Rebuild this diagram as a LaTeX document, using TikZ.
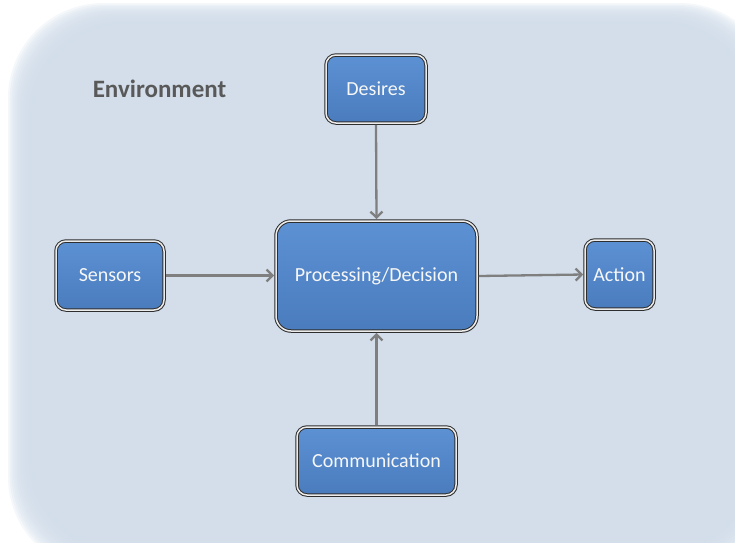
\documentclass[tikz,border=0pt]{standalone}
\usepackage{fontspec}
\setmainfont{Carlito}
\usetikzlibrary{arrows.meta,shadows}
\definecolor{bgc}{HTML}{D2DDEA}
\definecolor{boxtop}{HTML}{5C91D4}
\definecolor{boxbot}{HTML}{4A7CBD}
\definecolor{boxline}{HTML}{2E2E2E}
\definecolor{arrowc}{HTML}{7F7F7F}
\definecolor{envc}{HTML}{595959}
\tikzset{
  blockbox/.style={draw=boxline, line width=1pt, double=white!85!gray, double distance=1.5pt,
    top color=boxtop, bottom color=boxbot, rounded corners=10pt,
    text=white!94!gray, font=\fontsize{20}{24}\selectfont, inner sep=0pt, outer sep=1.8pt,
    drop shadow={opacity=0.3, shadow xshift=1pt, shadow yshift=-1.8pt}},
  flowarrow/.style={draw=arrowc, line width=2.3pt, -{Straight Barb[length=6pt,width=12pt,line width=2.3pt]}},
}
\begin{document}
\begin{tikzpicture}[x=1pt,y=-1pt]
\useasboundingbox (0,0) rectangle (735,542);
% soft background
\foreach \i in {0,...,15} {
  \fill[bgc, opacity=0.22, rounded corners=95pt] ({8+1.7*\i},{3+1.5*\i}) rectangle ({775-1.5*\i},{572-1.5*\i});
}
\node[font=\fontsize{25}{30}\selectfont\bfseries, text=envc] (env) at (159.5,89) {Environment};
\node[blockbox, minimum width=100pt, minimum height=68pt] (des) at (376,89) {Desires};
\node[blockbox, minimum width=108pt, minimum height=69pt] (sen) at (110,275.5) {Sensors};
\node[blockbox, minimum width=201pt, minimum height=110pt, rounded corners=15pt] (pro) at (376.5,276) {Processing/Decision};
\node[blockbox, minimum width=69pt, minimum height=69pt] (act) at (619.5,274.5) {Action};
\node[blockbox, minimum width=159pt, minimum height=68pt] (com) at (376.5,461) {Communication};
\draw[flowarrow] (des.south) -- (pro.north);
\draw[flowarrow] (sen.east) -- (pro.west |- sen.east);
\draw[flowarrow] (pro.east) -- (act.west);
\draw[flowarrow] (com.north) -- (pro.south);
\end{tikzpicture}
\end{document}
